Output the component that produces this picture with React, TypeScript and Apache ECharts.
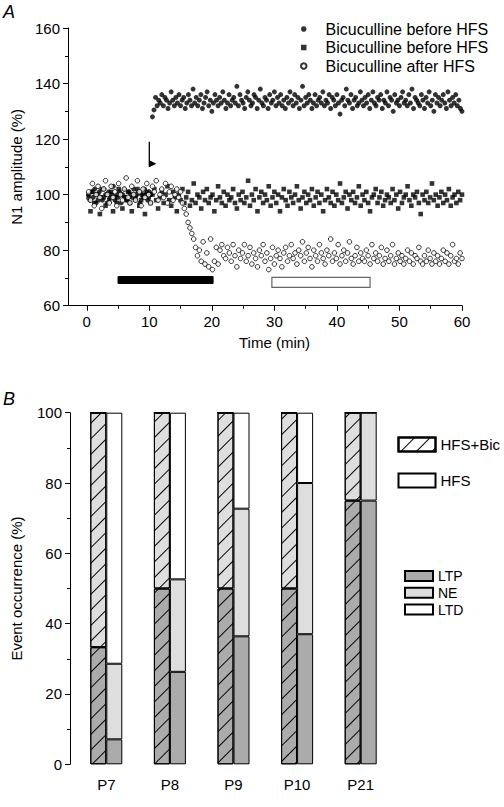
import React, { useEffect, useRef } from "react";
import * as echarts from "echarts";

// ---------- Panel A data ----------
// filled circles: time = 0.25 * (i + 1)
const circleStep = 0.25;
const circleValues = [
  100, 98, 101, 99, 102, 97, 100, 101, 99, 98,
  102, 100, 97, 101, 99, 100, 103, 98, 100, 99,
  101, 97, 100, 102, 99, 98, 101, 100, 99, 102,
  98, 100, 101, 97, 100, 99, 102, 100, 98, 101,
  100, 128, 130.5,
  135, 132, 134, 133, 136, 132, 135, 134, 131, 133, 137, 134, 132, 135, 133, 136, 132, 134, 135, 131,
  133, 136, 134, 132, 138, 133, 135, 132, 134, 136, 131, 133, 135, 137, 132, 134, 130, 133, 136, 134,
  132, 135, 133, 137, 134, 131, 133, 136, 132, 134, 135, 133, 139, 132, 136, 134, 133, 131, 135, 137,
  134, 132, 133, 136, 135, 131, 134, 138, 133, 132, 135, 134, 131, 136, 133, 134, 137, 132, 135, 133,
  136, 132, 134, 131, 135, 133, 137, 134, 132, 136, 133, 135, 131, 134, 139, 132, 135, 133, 136, 134,
  131, 133, 136, 132, 134, 135, 133, 137, 132, 134, 133, 136, 131, 135, 134, 132, 136, 133, 129, 134,
  135, 132, 138, 134, 133, 136, 131, 134, 135, 132, 133, 137, 134, 132, 135, 133, 136, 131, 134, 137,
  133, 132, 135, 134, 136, 131, 134, 133, 137, 132, 135, 134, 130, 136, 133, 134, 132, 135, 137, 133,
  134, 132, 136, 133, 138, 131, 135, 134, 133, 132, 136, 134, 131, 135, 133, 137, 132, 134, 130, 136,
  133, 135, 132, 134, 136, 133, 131, 137, 134, 132, 135, 133, 136, 132, 134, 131, 130,
];

// filled squares: time = 0.3 * (i + 1)
const squareStep = 0.3;
const squareValues = [
  99, 94, 101, 97, 100, 98, 93, 102, 99, 96, 100, 98, 101, 94, 99, 97, 102, 100, 95, 99,
  98, 101, 97, 94, 100, 99, 102, 96, 98, 100, 93, 101, 99, 97, 100, 102, 98, 95, 99, 101,
  97, 100, 103, 98, 96, 101, 99, 94, 100, 98, 102, 97, 99, 101, 96, 98, 104, 97, 100, 99,
  95, 101, 98, 102, 97, 99, 100, 94, 98, 103, 99, 97, 101, 96, 100, 98, 99, 102, 97, 95,
  100, 98, 101, 97, 99, 105, 96, 100, 98, 102, 94, 99, 101, 97, 100, 98, 103, 96, 99, 101,
  97, 100, 94, 99, 102, 98, 96, 101, 99, 97, 100, 103, 98, 95, 99, 101, 97, 100, 98, 102,
  96, 99, 101, 97, 100, 94, 98, 102, 99, 97, 101, 96, 100, 98, 104, 97, 99, 101, 95, 100,
  98, 101, 97, 99, 103, 96, 100, 98, 101, 97, 94, 99, 100, 102, 97, 99, 101, 96, 98, 100,
  99, 97, 102, 98, 100, 95, 101, 97, 99, 100, 103, 98, 96, 100, 99, 101, 97, 93, 100, 98,
  101, 97, 99, 104, 98, 100, 96, 99, 101, 97, 100, 98, 102, 96, 99, 100, 97, 101, 98, 100,
];

// open circles: time = 0.3 * (i + 1)
const openStep = 0.3;
const openValues = [
  101, 98, 104, 96, 100, 103, 99, 95, 102, 105, 100, 97, 103, 99, 101, 96, 104, 100, 98, 102,
  106, 99, 97, 103, 100, 98, 105, 101, 96, 102, 99, 104, 100, 97, 103, 101, 105, 98, 100, 102,
  99, 104, 97, 101, 103, 98, 100, 102, 99, 101,
  97, 95, 93, 90, 88, 86, 84, 81,
  78, 80, 76, 83, 75, 79, 74, 84, 73,
  76, 81, 75, 80, 82, 78, 77, 81, 79, 76, 82, 78, 74, 80, 77, 79, 82, 76, 78, 81,
  75, 79, 77, 74, 80, 78, 82, 76, 79, 73, 77, 81, 75, 78, 80, 77, 74, 79, 81, 76,
  78, 82, 77, 79, 75, 80, 78, 83, 76, 79, 81, 77, 74, 80, 78, 76, 82, 79, 77, 75,
  80, 78, 84, 76, 79, 77, 82, 75, 78, 80, 76, 79, 83, 77, 75, 78, 81, 76, 79, 77,
  76, 80, 78, 75, 82, 77, 79, 76, 78, 81, 75, 77, 80, 76, 78, 82, 75, 77, 79, 76,
  78, 75, 77, 80, 76, 79, 75, 78, 77, 81, 76, 75, 78, 76, 80, 77, 75, 79, 76, 78,
  75, 77, 80, 76, 79, 75, 78, 82, 76, 77, 75, 79, 77,
];

const legendLabelsA: Record<string, string> = {
  circles: "Bicuculline before HFS",
  squares: "Bicuculline before HFS",
  open: "Bicuculline after HFS",
};

const xTicksA = [0, 10, 20, 30, 40, 50, 60];
const xMinorTicksA = [5, 15, 25, 35, 45, 55];

// arrow: [time, top, bottom]
const arrowData = [[10, 119, 110]];
// application periods: [start, end, low, high]
const periodData = [
  [5, 20.2, 68, 70.5],
  [29.6, 45.3, 66.6, 70.2],
];

// ---------- Panel B data ----------
const ages = ["P7", "P8", "P9", "P10", "P21"];
const bicLTP = [33.3, 50, 50, 50, 75];
const bicNE = [66.7, 50, 50, 50, 25];
const bicLTD = [0, 0, 0, 0, 0];
const hfsLTP = [7.1, 26.3, 36.4, 37, 75];
const hfsNE = [21.5, 26.3, 36.3, 43, 25];
const hfsLTD = [71.4, 47.4, 27.3, 20, 0];

const FONT = "'Liberation Sans', Arial, Helvetica, sans-serif";
const LTP_COLOR = "#ababab";
const NE_COLOR = "#dedede";
const LTD_COLOR = "#ffffff";

const hatch = {
  symbol: "rect",
  symbolSize: 1,
  dashArrayX: [1, 0],
  dashArrayY: [1, 9.5],
  rotation: -Math.PI / 4,
  color: "#000",
};

function toPoints(values: number[], step: number) {
  return values.map((v, i) => [+(step * (i + 1)).toFixed(3), v]);
}

export default function App() {
  const ref = useRef<HTMLDivElement>(null);

  useEffect(() => {
    if (!ref.current) return;
    const chart = echarts.init(ref.current, null, { renderer: "svg" });

    const axisLineStyle = { color: "#000", width: 1 };
    const labelStyle = { color: "#000", fontSize: 15, fontFamily: FONT };

    const barBase = (name: string, stack: string, data: number[] | any[], color: string, decal?: any) => ({
      name,
      type: "bar",
      xAxisIndex: 2,
      yAxisIndex: 1,
      stack,
      barWidth: 16,
      barGap: "0%",
      data,
      itemStyle: {
        color,
        borderColor: "#000",
        borderWidth: 1,
        ...(decal ? { decal } : {}),
      },
      emphasis: { disabled: true },
    });

    const option: any = {
      animation: false,
      textStyle: { fontFamily: FONT },
      title: [
        { text: "A", left: 3, top: 3, padding: 0, textStyle: { fontStyle: "italic", fontWeight: "normal", fontSize: 18, color: "#000", fontFamily: FONT } },
        { text: "B", left: 3, top: 390, padding: 0, textStyle: { fontStyle: "italic", fontWeight: "normal", fontSize: 18, color: "#000", fontFamily: FONT } },
      ],
      legend: [
        {
          data: ["circles", "squares", "open"],
          orient: "vertical",
          left: 295,
          top: 15,
          itemWidth: 5.5,
          itemHeight: 5.5,
          itemGap: 0.5,
          selectedMode: false,
          formatter: (n: string) => legendLabelsA[n],
          textStyle: { fontSize: 16, color: "#000", fontFamily: FONT, lineHeight: 18, padding: [0, 0, 0, 14] },
        },
        {
          data: ["HFS+Bic", "HFS"],
          orient: "vertical",
          left: 392.5,
          top: 430.5,
          itemWidth: 37,
          itemHeight: 14,
          itemGap: 18,
          icon: "rect",
          selectedMode: false,
          textStyle: { fontSize: 15, color: "#000", fontFamily: FONT, lineHeight: 18 },
        },
        {
          data: ["LTP", "NE", "LTD"],
          orient: "vertical",
          left: 399,
          top: 563,
          itemWidth: 28,
          itemHeight: 10,
          itemGap: 0.8,
          icon: "rect",
          selectedMode: false,
          textStyle: { fontSize: 14, color: "#000", fontFamily: FONT, lineHeight: 16 },
        },
      ],
      grid: [
        { left: 68, top: 28, width: 394, height: 277.7 },
        { left: 74.5, top: 412.7, width: 318, height: 351.6 },
      ],
      xAxis: [
        {
          type: "value",
          gridIndex: 0,
          min: -3,
          max: 60,
          name: "Time (min)",
          nameLocation: "middle",
          nameGap: 29,
          nameTextStyle: { ...labelStyle, padding: [0, 0, 0, 19] },
          axisLine: { show: true, onZero: false, lineStyle: axisLineStyle },
          axisTick: { show: true, length: 5, lineStyle: axisLineStyle, customValues: xTicksA },
          axisLabel: { ...labelStyle, margin: 8, customValues: xTicksA },
          splitLine: { show: false },
        },
        {
          type: "value",
          gridIndex: 0,
          position: "bottom",
          min: -3,
          max: 60,
          axisLine: { show: false },
          axisTick: { show: true, length: 3, lineStyle: axisLineStyle, customValues: xMinorTicksA },
          axisLabel: { show: false },
          splitLine: { show: false },
        },
        {
          type: "category",
          gridIndex: 1,
          data: ages,
          axisLine: { show: false },
          axisTick: { show: false },
          axisLabel: { ...labelStyle, margin: 13 },
          splitLine: { show: false },
        },
      ],
      yAxis: [
        {
          type: "value",
          gridIndex: 0,
          min: 60,
          max: 160,
          interval: 20,
          name: "N1 amplitude (%)",
          nameLocation: "middle",
          nameGap: 44,
          nameTextStyle: labelStyle,
          axisLine: { show: true, onZero: false, lineStyle: axisLineStyle },
          axisTick: { show: true, length: 5, lineStyle: axisLineStyle },
          minorTick: { show: true, splitNumber: 2, length: 3, lineStyle: axisLineStyle },
          axisLabel: { ...labelStyle, margin: 8 },
          splitLine: { show: false },
          minorSplitLine: { show: false },
        },
        {
          type: "value",
          gridIndex: 1,
          min: 0,
          max: 100,
          interval: 20,
          offset: 4.5,
          name: "Event occurrence (%)",
          nameLocation: "middle",
          nameGap: 46,
          nameTextStyle: labelStyle,
          axisLine: { show: true, onZero: false, lineStyle: axisLineStyle },
          axisTick: { show: true, length: 5, lineStyle: axisLineStyle },
          minorTick: { show: true, splitNumber: 2, length: 3, lineStyle: axisLineStyle },
          axisLabel: { ...labelStyle, margin: 8 },
          splitLine: { show: false },
          minorSplitLine: { show: false },
        },
      ],
      series: [
        {
          name: "circles",
          type: "scatter",
          xAxisIndex: 0,
          yAxisIndex: 0,
          symbol: "circle",
          symbolSize: 5,
          data: toPoints(circleValues, circleStep),
          itemStyle: { color: "#000" },
          emphasis: { disabled: true },
        },
        {
          name: "squares",
          type: "scatter",
          xAxisIndex: 0,
          yAxisIndex: 0,
          symbol: "rect",
          symbolSize: 4.6,
          data: toPoints(squareValues, squareStep),
          itemStyle: { color: "#000" },
          emphasis: { disabled: true },
        },
        {
          name: "open",
          type: "scatter",
          xAxisIndex: 0,
          yAxisIndex: 0,
          symbol: "circle",
          symbolSize: 4.6,
          data: toPoints(openValues, openStep),
          itemStyle: { color: "#fff", borderColor: "#000", borderWidth: 1 },
          emphasis: { disabled: true },
        },
        {
          type: "custom",
          xAxisIndex: 0,
          yAxisIndex: 0,
          data: arrowData,
          silent: true,
          renderItem: (_p: any, api: any) => {
            const top = api.coord([api.value(0), api.value(1)]);
            const bot = api.coord([api.value(0), api.value(2)]);
            return {
              type: "group",
              children: [
                { type: "line", shape: { x1: top[0], y1: top[1], x2: bot[0], y2: bot[1] }, style: { stroke: "#000", lineWidth: 1.3 } },
                {
                  type: "polygon",
                  shape: { points: [[bot[0], bot[1] - 6.5], [bot[0] + 7, bot[1] - 3], [bot[0], bot[1] + 0.5]] },
                  style: { fill: "#000" },
                },
              ],
            };
          },
        },
        {
          type: "custom",
          xAxisIndex: 0,
          yAxisIndex: 0,
          data: periodData,
          silent: true,
          renderItem: (p: any, api: any) => {
            const a = api.coord([api.value(0), api.value(3)]);
            const b = api.coord([api.value(1), api.value(2)]);
            const filled = p.dataIndex === 0;
            return {
              type: "rect",
              shape: { x: a[0], y: a[1], width: b[0] - a[0], height: b[1] - a[1] },
              style: filled
                ? { fill: "#000", stroke: "#000", lineWidth: 1 }
                : { fill: "#fff", stroke: "#666", lineWidth: 1.2 },
            };
          },
        },
        barBase("HFS+Bic", "bic", [], "#fff", hatch),
        barBase("LTP (HFS+Bic)", "bic", bicLTP, LTP_COLOR, hatch),
        barBase("NE (HFS+Bic)", "bic", bicNE, NE_COLOR, hatch),
        barBase("LTD (HFS+Bic)", "bic", bicLTD, LTD_COLOR, hatch),
        barBase("HFS", "hfs", [], "#fff"),
        barBase("LTP", "hfs", hfsLTP, LTP_COLOR),
        barBase("NE", "hfs", hfsNE, NE_COLOR),
        barBase("LTD", "hfs", hfsLTD, LTD_COLOR),
      ],
    };

    chart.setOption(option);
    return () => chart.dispose();
  }, []);

  return (
    <div
      ref={ref}
      style={{ position: "fixed", left: 0, top: 0, width: 504, height: 807, background: "#fff" }}
    />
  );
}
